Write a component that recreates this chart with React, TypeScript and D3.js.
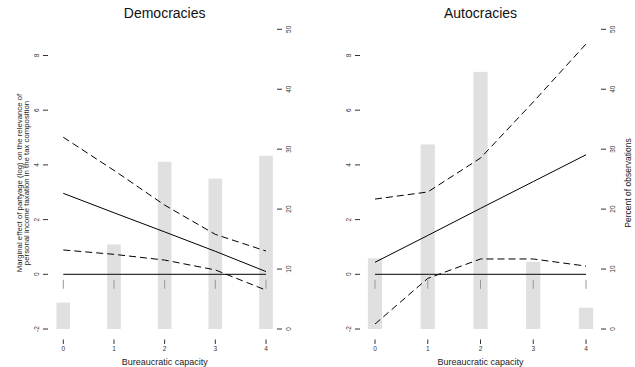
import React from "react";
import * as d3 from "d3";

const categories = [0, 1, 2, 3, 4];
const yTicks = [-2, 0, 2, 4, 6, 8];
const pctTicks = [0, 10, 20, 30, 40, 50];

const demEffect = [2.96, 2.25, 1.55, 0.84, 0.1];
const demUpper = [5.01, 3.8, 2.53, 1.46, 0.85];
const demLower = [0.89, 0.73, 0.52, 0.16, -0.58];
const demPct = [4.4, 14.1, 27.9, 25.1, 28.9];

const autEffect = [0.44, 1.42, 2.41, 3.39, 4.37];
const autUpper = [2.75, 3.01, 4.25, 6.3, 8.42];
const autLower = [-1.82, -0.15, 0.56, 0.56, 0.3];
const autPct = [11.8, 30.8, 42.9, 11.2, 3.55];

const W = 635;
const H = 367;
const FONT = "'Liberation Sans', Arial, Helvetica, sans-serif";

type PanelProps = {
  title: string;
  x0: number;
  x1: number;
  leftAxisX: number;
  rightAxisX: number;
  effect: number[];
  upper: number[];
  lower: number[];
  pct: number[];
};

function Panel(p: PanelProps) {
  const x = d3.scaleLinear().domain([0, 4]).range([p.x0, p.x1]);
  const y = d3.scaleLinear().domain([-2, 8]).range([329, 55.5]);
  const yp = d3.scaleLinear().domain([0, 50]).range([329, 29.3]);
  const line = d3
    .line<number>()
    .x((_, i) => x(categories[i]))
    .y((d) => y(d));
  const halfW = 0.135;
  const cx = (p.x0 + p.x1) / 2;
  const dash = "7,4";
  return (
    <g>
      {/* bars */}
      {p.pct.map((v, i) => (
        <rect
          key={"b" + i}
          x={x(categories[i] - halfW)}
          width={x(categories[i] + halfW) - x(categories[i] - halfW)}
          y={yp(v)}
          height={yp(0) - yp(v)}
          fill="#e0e0e0"
        />
      ))}
      {/* rug-like marks */}
      {categories.map((c) => (
        <line
          key={"r" + c}
          x1={x(c)}
          x2={x(c)}
          y1={y(-0.2)}
          y2={y(-0.53)}
          stroke="#999"
          strokeWidth={1}
        />
      ))}
      {/* zero line */}
      <line x1={x(0)} x2={x(4)} y1={y(0)} y2={y(0)} stroke="#333" strokeWidth={1.3} />
      <path d={line(p.effect) || ""} fill="none" stroke="#000" strokeWidth={1} />
      <path d={line(p.upper) || ""} fill="none" stroke="#000" strokeWidth={1} strokeDasharray={dash} />
      <path d={line(p.lower) || ""} fill="none" stroke="#000" strokeWidth={1} strokeDasharray={dash} />
      {/* left axis */}
      {yTicks.map((t) => (
        <g key={"yl" + t}>
          <line x1={p.leftAxisX - 5} x2={p.leftAxisX} y1={y(t)} y2={y(t)} stroke="#333" strokeWidth={1} />
          <text
            transform={`translate(${p.leftAxisX - 9},${y(t)}) rotate(-90)`}
            textAnchor="middle"
            fontSize={6.5}
            fill="#333"
            fontFamily={FONT}
          >
            {t}
          </text>
        </g>
      ))}
      {/* right axis */}
      {pctTicks.map((t) => (
        <g key={"yr" + t}>
          <line x1={p.rightAxisX} x2={p.rightAxisX + 5} y1={yp(t)} y2={yp(t)} stroke="#333" strokeWidth={1} />
          <text
            transform={`translate(${p.rightAxisX + 13.5},${yp(t)}) rotate(-90)`}
            textAnchor="middle"
            fontSize={6.5}
            fill="#333"
            fontFamily={FONT}
          >
            {t}
          </text>
        </g>
      ))}
      {/* x axis */}
      {categories.map((c) => (
        <g key={"x" + c}>
          <line x1={x(c)} x2={x(c)} y1={339.5} y2={344} stroke="#333" strokeWidth={1} />
          <text x={x(c)} y={351} textAnchor="middle" fontSize={6.5} fill="#333" fontFamily={FONT}>
            {c}
          </text>
        </g>
      ))}
      <text x={cx} y={365} textAnchor="middle" fontSize={9} fill="#222" fontFamily={FONT}>
        Bureaucratic capacity
      </text>
      <text x={cx} y={18} textAnchor="middle" fontSize={14} fill="#111" fontFamily={FONT}>
        {p.title}
      </text>
    </g>
  );
}

export default function App() {
  return (
    <svg width={W} height={H} style={{ position: "absolute", left: 0, top: 0, background: "#fff" }}>
      <rect width={W} height={H} fill="#fff" />
      <Panel
        title="Democracies"
        x0={63.3}
        x1={266}
        leftAxisX={48}
        rightAxisX={277}
        effect={demEffect}
        upper={demUpper}
        lower={demLower}
        pct={demPct}
      />
      <Panel
        title="Autocracies"
        x0={375}
        x1={586}
        leftAxisX={360}
        rightAxisX={601}
        effect={autEffect}
        upper={autUpper}
        lower={autLower}
        pct={autPct}
      />
      <text
        transform="translate(22,183) rotate(-90)"
        textAnchor="middle"
        fontSize={7.8}
        fill="#222"
        fontFamily={FONT}
      >
        Marginal effect of partyage (log) on the relevance of
      </text>
      <text
        transform="translate(28.5,183) rotate(-90)"
        textAnchor="middle"
        fontSize={7.8}
        fill="#222"
        fontFamily={FONT}
      >
        personal income taxation in the tax composition
      </text>
      <text
        transform="translate(631,183) rotate(-90)"
        textAnchor="middle"
        fontSize={8.5}
        fill="#222"
        fontFamily={FONT}
      >
        Percent of observations
      </text>
    </svg>
  );
}
